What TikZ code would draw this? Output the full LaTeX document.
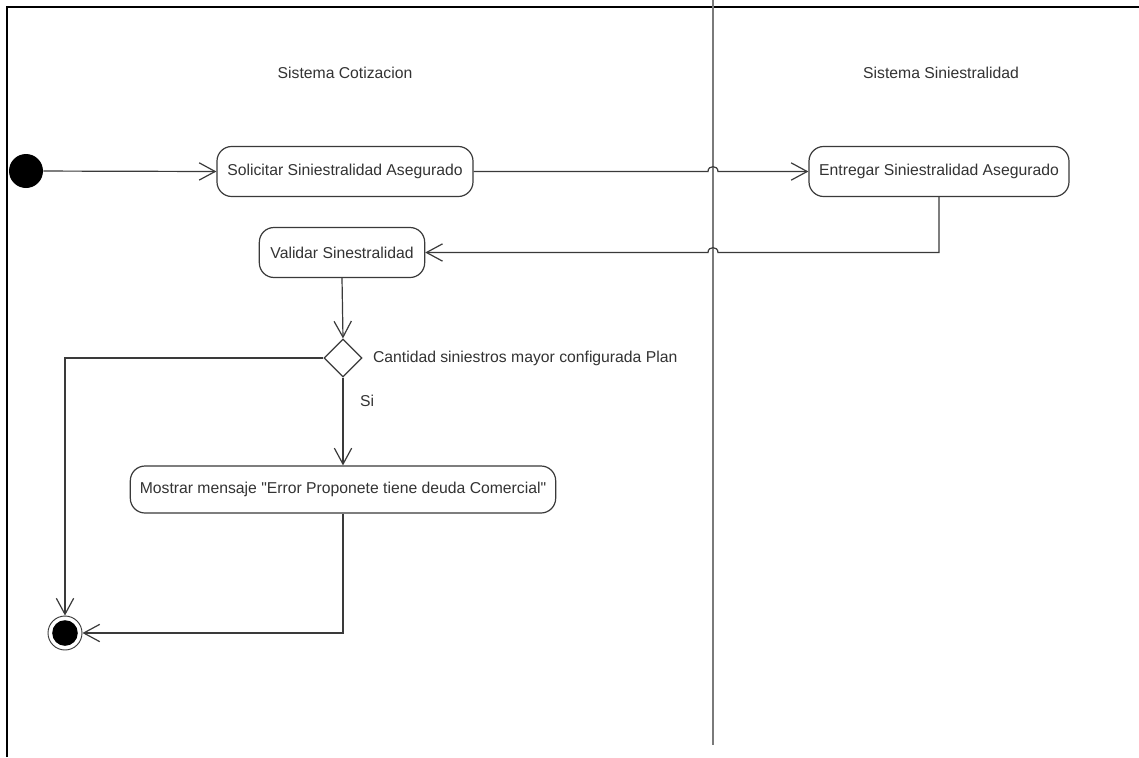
\documentclass[tikz,border=0pt]{standalone}
\usepackage{fontspec}
\setmainfont{Liberation Sans}[Ligatures=TeXOff]
\usetikzlibrary{arrows.meta,shapes.geometric}
\definecolor{ink}{HTML}{3A3A3A}
\definecolor{txt}{HTML}{333333}
\definecolor{lane}{HTML}{7A7A7A}
\begin{document}
\begin{tikzpicture}[x=0.75pt,y=-0.75pt,
  font=\fontsize{11.8pt}{14pt}\selectfont,
  every node/.style={text=txt},
  action/.style={draw=ink,line width=0.9pt,rounded corners=11pt,fill=white,
    minimum height=37.5pt,inner sep=0pt,align=center},
  decision/.style={draw=ink,line width=0.9pt,diamond,fill=white,
    minimum width=28.5pt,minimum height=28.5pt,inner sep=0pt},
  startnode/.style={circle,fill=black,minimum size=25.5pt,inner sep=0pt},
  endnode/.style={circle,draw=ink,line width=0.7pt,fill=white,minimum size=25.5pt,inner sep=0pt,
    path picture={\fill[black] (path picture bounding box.center) circle[radius=9.6pt];}},
  flow/.style={draw=ink,line width=0.9pt,-{Straight Barb[length=12pt,width=13pt,line width=0.9pt]}},
  frameline/.style={draw=black,line width=1.6pt},
  laneline/.style={draw=lane,line width=1.6pt}
]
\useasboundingbox (0,0) rectangle (1139,757);
\fill[white] (0,0) rectangle (1139,757);

% outer frame and lane divider
\draw[frameline] (7,757) -- (7,7) -- (1139,7);
\draw[laneline] (713,0) -- (713,745);

% lane titles
\node (laneA) at (345,73) {Sistema Cotizacion};
\node (laneB) at (941,73) {Sistema Siniestralidad};

% activities
\node[startnode] (start) at (26,171) {};
\node[action,minimum width=192pt] (solicitar) at (345,171.5) {Solicitar Siniestralidad Asegurado};
\node[action,minimum width=195pt] (entregar) at (939,171.5) {Entregar Siniestralidad Asegurado};
\node[action,minimum width=124pt] (validar) at (342,252.5) {Validar Sinestralidad};
\node[decision] (dec) at (343,358) {};
\node[anchor=west,xshift=4.3pt] (declbl) at (dec.east) {Cantidad siniestros mayor configurada Plan};
\node[action,minimum width=319pt,minimum height=35.25pt] (mostrar) at (343,489.5) {Mostrar mensaje "Error Proponete tiene deuda Comercial"};
\node[endnode] (final) at (65,633) {};

% line hops over the lane divider
\coordinate (hopA1) at (708,171.5);
\coordinate (hopA2) at (718,171.5);
\coordinate (hopB1) at (718,252.5);
\coordinate (hopB2) at (708,252.5);
\coordinate (turnB) at (939,252.5);

% transitions
\draw[flow] (start) -- (solicitar.west);
\draw[flow] (solicitar.east) -- (hopA1) .. controls +(0,-6.5) and +(0,-6.5) .. (hopA2) -- (entregar.west);
\draw[flow] (entregar.south) -- (turnB) -- (hopB1) .. controls +(0,-6.5) and +(0,-6.5) .. (hopB2) -- (validar.east);
\draw[flow] (validar.south) -- (dec.north);
\draw[flow] (dec.south) -- node[pos=0.26,anchor=west,xshift=9pt] (si) {Si} (mostrar.north);
\draw[flow] (dec.west) -| (final.north);
\draw[flow] (mostrar.south) |- (final.east);
\end{tikzpicture}
\end{document}
